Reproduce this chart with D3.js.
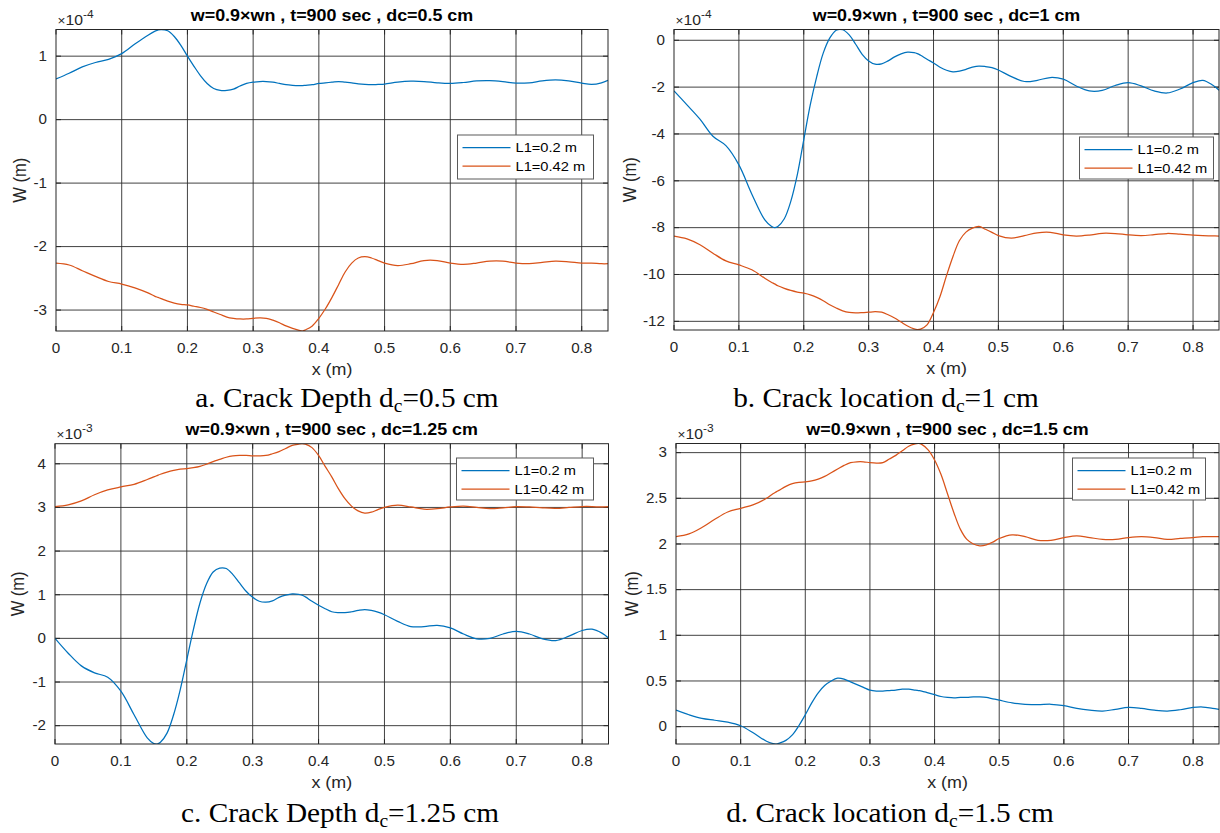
<!DOCTYPE html>
<html>
<head>
<meta charset="utf-8">
<script src="https://cdn.jsdelivr.net/npm/d3@7"></script>
<style>
  body { margin: 0; background: #fff; }
  svg { display: block; }
</style>
</head>
<body>
<svg id="fig" width="1220" height="833"></svg>
<script>
// Beam position along the span (m), shared by every curve
const xPos = [0, 0.02, 0.04, 0.06, 0.08, 0.1, 0.12, 0.14, 0.15, 0.155,
  0.16, 0.17, 0.18, 0.19, 0.2, 0.21, 0.22, 0.23, 0.24, 0.25,
  0.26, 0.27, 0.28, 0.29, 0.3, 0.31, 0.32, 0.33, 0.34, 0.35,
  0.36, 0.37, 0.375, 0.38, 0.39, 0.4, 0.41, 0.42, 0.43, 0.44,
  0.45, 0.46, 0.47, 0.48, 0.49, 0.5, 0.52, 0.54, 0.56, 0.58,
  0.6, 0.62, 0.64, 0.66, 0.68, 0.7, 0.72, 0.74, 0.76, 0.78,
  0.8, 0.815, 0.83, 0.84];

// dc = 0.5 cm, deflection in units of 1e-4 m
const aL1 = [0.64, 0.73, 0.83, 0.90, 0.95, 1.04, 1.19, 1.33, 1.39, 1.41,
  1.42, 1.40, 1.31, 1.17, 1.00, 0.84, 0.69, 0.57, 0.49, 0.46,
  0.46, 0.48, 0.53, 0.57, 0.59, 0.60, 0.60, 0.59, 0.57, 0.55,
  0.54, 0.535, 0.535, 0.54, 0.55, 0.57, 0.58, 0.59, 0.60, 0.59,
  0.58, 0.565, 0.555, 0.55, 0.555, 0.56, 0.59, 0.605, 0.60, 0.58,
  0.57, 0.585, 0.61, 0.615, 0.60, 0.575, 0.58, 0.61, 0.625, 0.61,
  0.575, 0.555, 0.58, 0.62];
const aL2 = [-2.26, -2.29, -2.38, -2.47, -2.55, -2.59, -2.65, -2.73, -2.78, -2.80,
  -2.82, -2.86, -2.89, -2.91, -2.92, -2.94, -2.96, -2.99, -3.03, -3.07,
  -3.11, -3.13, -3.14, -3.14, -3.13, -3.125, -3.13, -3.16, -3.20, -3.25,
  -3.29, -3.32, -3.33, -3.31, -3.25, -3.13, -2.98, -2.80, -2.60, -2.40,
  -2.26, -2.18, -2.16, -2.18, -2.22, -2.26, -2.30, -2.27, -2.22, -2.22,
  -2.26, -2.28, -2.26, -2.23, -2.23, -2.26, -2.27, -2.25, -2.23, -2.24,
  -2.26, -2.26, -2.27, -2.27];

// dc = 1 cm, units of 1e-4 m
const bL1 = [-2.16, -2.76, -3.37, -4.10, -4.50, -5.32, -6.57, -7.67, -7.94, -8.00,
  -7.95, -7.62, -6.88, -5.75, -4.25, -2.76, -1.55, -0.55, 0.09, 0.43,
  0.45, 0.23, -0.17, -0.60, -0.88, -1.02, -1.01, -0.88, -0.71, -0.58,
  -0.51, -0.53, -0.57, -0.64, -0.81, -0.97, -1.15, -1.28, -1.35, -1.32,
  -1.24, -1.15, -1.10, -1.12, -1.17, -1.27, -1.55, -1.76, -1.71, -1.59,
  -1.66, -1.95, -2.16, -2.14, -1.93, -1.81, -1.95, -2.16, -2.25, -2.08,
  -1.81, -1.71, -1.91, -2.13];
const bL2 = [-8.36, -8.48, -8.73, -9.09, -9.42, -9.59, -9.80, -10.16, -10.33, -10.40,
  -10.48, -10.59, -10.68, -10.75, -10.80, -10.87, -10.98, -11.12, -11.29, -11.43,
  -11.55, -11.62, -11.64, -11.63, -11.61, -11.59, -11.61, -11.72, -11.86, -12.03,
  -12.20, -12.32, -12.35, -12.33, -12.15, -11.62, -10.94, -10.05, -9.23, -8.55,
  -8.19, -8.02, -7.95, -8.07, -8.20, -8.34, -8.45, -8.34, -8.22, -8.20,
  -8.31, -8.36, -8.32, -8.24, -8.25, -8.31, -8.34, -8.30, -8.25, -8.28,
  -8.32, -8.34, -8.35, -8.36];

// dc = 1.25 cm, units of 1e-3 m
const cL1 = [0.00, -0.34, -0.63, -0.79, -0.89, -1.21, -1.75, -2.28, -2.41, -2.42,
  -2.38, -2.17, -1.75, -1.18, -0.49, 0.20, 0.81, 1.25, 1.52, 1.61,
  1.60, 1.46, 1.27, 1.08, 0.94, 0.85, 0.83, 0.86, 0.94, 0.99,
  1.02, 1.01, 0.99, 0.95, 0.85, 0.76, 0.68, 0.61, 0.59, 0.59,
  0.61, 0.64, 0.66, 0.64, 0.60, 0.54, 0.39, 0.27, 0.27, 0.30,
  0.24, 0.10, -0.01, 0.00, 0.10, 0.16, 0.10, -0.01, -0.05, 0.05,
  0.18, 0.21, 0.12, 0.01];
const cL2 = [3.02, 3.06, 3.15, 3.29, 3.40, 3.47, 3.53, 3.64, 3.70, 3.73,
  3.76, 3.81, 3.85, 3.88, 3.89, 3.91, 3.94, 3.99, 4.05, 4.10,
  4.15, 4.18, 4.19, 4.19, 4.18, 4.18, 4.19, 4.23, 4.28, 4.35,
  4.42, 4.45, 4.46, 4.45, 4.37, 4.19, 3.94, 3.70, 3.43, 3.20,
  3.03, 2.92, 2.87, 2.89, 2.95, 3.00, 3.05, 3.01, 2.96, 2.97,
  3.01, 3.03, 3.00, 2.97, 2.99, 3.02, 3.01, 2.99, 2.98, 3.00,
  3.02, 3.02, 3.01, 3.02];

// dc = 1.5 cm, units of 1e-3 m
const dL1 = [0.18, 0.13, 0.09, 0.07, 0.05, 0.01, -0.07, -0.16, -0.185, -0.19,
  -0.18, -0.15, -0.09, 0.01, 0.13, 0.26, 0.37, 0.45, 0.50, 0.53,
  0.52, 0.49, 0.46, 0.43, 0.40, 0.39, 0.39, 0.395, 0.40, 0.41,
  0.41, 0.40, 0.395, 0.39, 0.37, 0.35, 0.33, 0.32, 0.315, 0.32,
  0.32, 0.325, 0.325, 0.32, 0.305, 0.29, 0.26, 0.245, 0.24, 0.245,
  0.23, 0.20, 0.18, 0.17, 0.19, 0.21, 0.20, 0.18, 0.17, 0.185,
  0.21, 0.215, 0.20, 0.19];
const dL2 = [2.08, 2.11, 2.18, 2.27, 2.35, 2.39, 2.43, 2.50, 2.55, 2.57,
  2.59, 2.63, 2.66, 2.675, 2.68, 2.69, 2.71, 2.74, 2.78, 2.82,
  2.86, 2.89, 2.90, 2.90, 2.89, 2.885, 2.89, 2.93, 2.97, 3.02,
  3.07, 3.095, 3.10, 3.09, 3.03, 2.92, 2.76, 2.55, 2.34, 2.16,
  2.05, 2.00, 1.98, 1.99, 2.02, 2.06, 2.10, 2.08, 2.04, 2.04,
  2.07, 2.09, 2.07, 2.05, 2.05, 2.07, 2.08, 2.07, 2.05, 2.06,
  2.07, 2.08, 2.08, 2.08];

// Axis limits and ticks
const xRange = [0, 0.84];
const xTicks = [0, 0.1, 0.2, 0.3, 0.4, 0.5, 0.6, 0.7, 0.8];
const aRange = [-3.33, 1.42];
const bRange = [-12.37, 0.46];
const cRange = [-2.42, 4.46];
const dRange = [-0.19, 3.10];
const aTicks = [-3, -2, -1, 0, 1];
const bTicks = [-12, -10, -8, -6, -4, -2, 0];
const cTicks = [-2, -1, 0, 1, 2, 3, 4];
const dTicks = [0, 0.5, 1, 1.5, 2, 2.5, 3];
const exponents = ["-4", "-4", "-3", "-3"];

const titles = [
  "w=0.9×wn , t=900 sec , dc=0.5 cm",
  "w=0.9×wn , t=900 sec , dc=1 cm",
  "w=0.9×wn , t=900 sec , dc=1.25 cm",
  "w=0.9×wn , t=900 sec , dc=1.5 cm"
];
const captions = [
  ["a. Crack Depth d", "c", "=0.5 cm"],
  ["b. Crack location d", "c", "=1 cm"],
  ["c. Crack Depth d", "c", "=1.25 cm"],
  ["d. Crack location d", "c", "=1.5 cm"]
];
const legendLabels = ["L1=0.2 m", "L1=0.42 m"];
const seriesColors = ["#0072BD", "#D95319"];

// Layout of the four axes
const panels = [
  { box: { l: 56, r: 608, t: 29.5, b: 331 }, range: aRange, ticks: aTicks, series: [aL1, aL2],
    legend: { x: 457.5, y: 135, w: 136, h: 44 }, capX: 347, capY: 407, yLabX: 19.5 },
  { box: { l: 674, r: 1219, t: 29.5, b: 330 }, range: bRange, ticks: bTicks, series: [bL1, bL2],
    legend: { x: 1079.5, y: 137, w: 134, h: 42 }, capX: 886, capY: 407, yLabX: 629.5 },
  { box: { l: 55, r: 608.5, t: 443.7, b: 744 }, range: cRange, ticks: cTicks, series: [cL1, cL2],
    legend: { x: 456.5, y: 458, w: 137, h: 42 }, capX: 340, capY: 822, yLabX: 17.5 },
  { box: { l: 676, r: 1219, t: 443.5, b: 744 }, range: dRange, ticks: dTicks, series: [dL1, dL2],
    legend: { x: 1072.5, y: 458, w: 133, h: 42 }, capX: 890, capY: 822, yLabX: 631.5 }
];

const sans = "'Liberation Sans', Arial, Helvetica, sans-serif";
const serif = "'Liberation Serif', 'Times New Roman', Times, serif";
const ink = "#262626";
const SX = 1.085;   // horizontal widening of the figure's lettering

const svg = d3.select("#fig");

// text placed at (x, y) and widened horizontally by SX
function txt(parent, x, y, str, o) {
  const g = parent.append("g")
    .attr("transform", `translate(${x},${y}) scale(${SX},1)` + (o.rot ? ` rotate(${o.rot})` : ""));
  const t = g.append("text")
    .attr("text-anchor", o.anchor || "start")
    .attr("dominant-baseline", o.baseline || "auto")
    .attr("font-family", o.family || sans)
    .attr("font-size", o.size)
    .attr("font-weight", o.weight || "normal")
    .attr("fill", o.fill || ink);
  if (str != null) t.text(str);
  return t;
}

panels.forEach((p, i) => {
  const { l, r, t, b } = p.box;
  const x = d3.scaleLinear().domain(xRange).range([l, r]);
  const y = d3.scaleLinear().domain(p.range).range([b, t]);
  const g = svg.append("g");

  const clipId = "clip" + i;
  svg.append("clipPath").attr("id", clipId)
    .append("rect").attr("x", l).attr("y", t).attr("width", r - l).attr("height", b - t);

  // grid
  g.append("g").selectAll("line").data(xTicks.filter(v => v > 0)).join("line")
    .attr("x1", d => x(d)).attr("x2", d => x(d)).attr("y1", t).attr("y2", b)
    .attr("stroke", "#2e2e2e").attr("stroke-opacity", 0.9).attr("stroke-width", 1);
  g.append("g").selectAll("line").data(p.ticks).join("line")
    .attr("x1", l).attr("x2", r).attr("y1", d => y(d)).attr("y2", d => y(d))
    .attr("stroke", "#2e2e2e").attr("stroke-opacity", 0.9).attr("stroke-width", 1);

  // inward tick marks on all four sides
  const tk = 5;
  const tg = g.append("g").attr("stroke", ink).attr("stroke-width", 1);
  xTicks.forEach(v => {
    tg.append("line").attr("x1", x(v)).attr("x2", x(v)).attr("y1", b).attr("y2", b - tk);
    tg.append("line").attr("x1", x(v)).attr("x2", x(v)).attr("y1", t).attr("y2", t + tk);
  });
  p.ticks.forEach(v => {
    tg.append("line").attr("x1", l).attr("x2", l + tk).attr("y1", y(v)).attr("y2", y(v));
    tg.append("line").attr("x1", r).attr("x2", r - tk).attr("y1", y(v)).attr("y2", y(v));
  });

  // curves
  const line = d3.line()
    .x((d, k) => x(xPos[k]))
    .y(d => y(d))
    .curve(d3.curveCatmullRom.alpha(0.5));
  p.series.forEach((s, k) => {
    g.append("path").datum(s)
      .attr("clip-path", `url(#${clipId})`)
      .attr("fill", "none").attr("stroke", seriesColors[k])
      .attr("stroke-width", 1.25).attr("d", line);
  });

  // axes box
  g.append("rect").attr("x", l).attr("y", t).attr("width", r - l).attr("height", b - t)
    .attr("fill", "none").attr("stroke", ink).attr("stroke-width", 1);

  // tick labels
  xTicks.forEach(v => txt(g, x(v), b + 17, String(v),
    { size: 14, anchor: "middle", baseline: "central" }));
  p.ticks.forEach(v => txt(g, l - 9, y(v), String(v),
    { size: 14, anchor: "end", baseline: "central" }));

  // exponent multiplier
  const ex = txt(g, l + 1.5, t - 4.5, null, { size: 14.5 });
  ex.append("tspan").attr("font-size", 12.5).text("×");
  ex.append("tspan").text("10");
  ex.append("tspan").attr("font-size", 11).attr("dy", -7).text(exponents[i]);

  // axis labels
  txt(g, (l + r) / 2, b + 38.5, "x (m)", { size: 16.5, anchor: "middle", baseline: "central" });
  txt(g, p.yLabX, (t + b) / 2, "W (m)", { size: 16.5, anchor: "middle", baseline: "central", rot: -90 });

  // title
  txt(g, (l + r) / 2, t - 8.5, titles[i], { size: 16.5, anchor: "middle", weight: "bold", fill: "#000" });

  // legend
  const lg = p.legend;
  const leg = g.append("g");
  leg.append("rect").attr("x", lg.x).attr("y", lg.y).attr("width", lg.w).attr("height", lg.h)
    .attr("fill", "#fff").attr("stroke", "#5a5a5a").attr("stroke-width", 1);
  legendLabels.forEach((lab, k) => {
    const ry = lg.y + 12.5 + k * 18.5;
    leg.append("line").attr("x1", lg.x + 5).attr("x2", lg.x + 53).attr("y1", ry).attr("y2", ry)
      .attr("stroke", seriesColors[k]).attr("stroke-width", 1.25);
    txt(leg, lg.x + 58, ry, lab, { size: 13.5, baseline: "central", fill: "#000" });
  });

  // caption under the panel
  const cap = txt(svg, p.capX, p.capY, null,
    { size: 27, anchor: "middle", family: serif, fill: "#000" });
  cap.append("tspan").text(captions[i][0]);
  cap.append("tspan").attr("font-size", 18).attr("dy", 5).text(captions[i][1]);
  cap.append("tspan").attr("dy", -5).text(captions[i][2]);
});
</script>
</body>
</html>
